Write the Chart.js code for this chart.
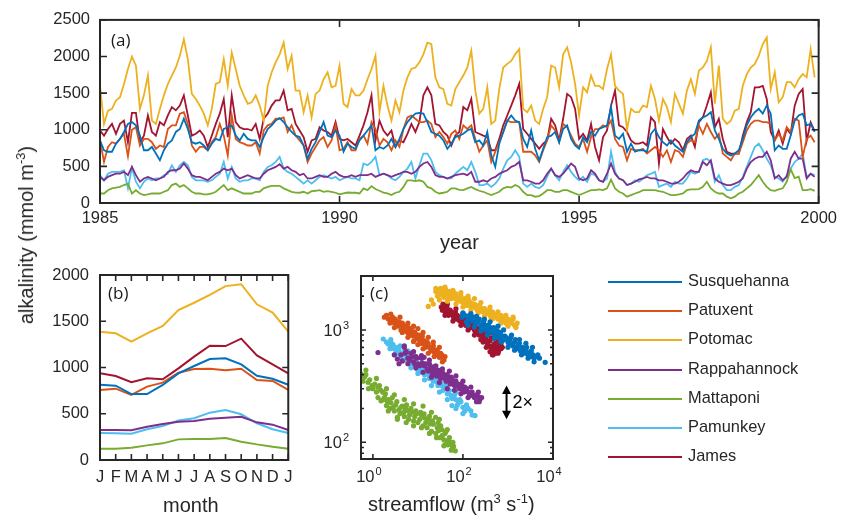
<!DOCTYPE html>
<html>
<head>
<meta charset="utf-8">
<script src="https://cdn.jsdelivr.net/npm/chart.js@4.4.1/dist/chart.umd.min.js"></script>
<style>
body { margin: 0; background: #fff; }
#wrap { position: relative; width: 843px; height: 520px; overflow: hidden; font-family: 'Liberation Sans', Arial, sans-serif; color: #262626; }
canvas { position: absolute; }
.lbl { position: absolute; font-size: 20px; line-height: 1; white-space: nowrap; }
.lbl sup { font-size: 13px; vertical-align: 0; position: relative; top: -8px; line-height: 0; }
.tag { position: absolute; font-family: 'Open Sans', sans-serif; font-size: 17px; line-height: 1; color: #1a1a1a; }
.leg-line { position: absolute; left: 608px; width: 74px; height: 2px; }
.leg-text { position: absolute; left: 688px; font-size: 16.4px; line-height: 1; white-space: nowrap; }
</style>
</head>
<body>
<div id="wrap">
  <canvas id="chartA" width="843" height="235" style="left:0;top:0"></canvas>
  <canvas id="chartB" width="300" height="255" style="left:0;top:240px"></canvas>
  <canvas id="chartC" width="280" height="255" style="left:300px;top:240px"></canvas>

  <div class="tag" style="left:111px;top:31px">(a)</div>
  <div class="tag" style="left:108px;top:284px">(b)</div>
  <div class="tag" style="left:370px;top:284px">(c)</div>

  <div class="lbl" style="left:440px;top:232px">year</div>
  <div class="lbl" style="left:163px;top:495px">month</div>
  <div class="lbl" style="left:368px;top:494px">streamflow (m<sup>3</sup> s<sup>-1</sup>)</div>
  <div class="lbl" style="left:26px;top:235px;transform:translate(-50%,-50%) rotate(-90deg)">alkalinity (mmol m<sup>-3</sup>)</div>

  <div id="legend"></div>
</div>
<script>
const ink = '#262626';
const rivers = ['Susquehanna', 'Patuxent', 'Potomac', 'Rappahannock', 'Mattaponi', 'Pamunkey', 'James'];
const colors = ['#0072BD', '#D95319', '#EDB120', '#7E2F8E', '#77AC30', '#4DBEEE', '#A2142F'];

// (a) monthly series, Jan 1985 .. Dec 1999
const startYear = 1985;
const yearTicks = [1985, 1990, 1995, 2000];
const alkTicksA = [0, 500, 1000, 1500, 2000, 2500];

const susMonthly = [
  855,720,700,700,810,875,970,1080,1105,1060, 920,720,720,765,675,583,720,810,855,970,
  1010,1150,1010,830,810,830,785,720,810,875, 855,1010,1035,1060,920,855,945,875,855,855,
  765,900,1010,1060,1125,1160,1105,1035,970,920, 900,785,605,740,830,970,1105,920,900,990,
  920,700,810,765,740,855,920,990,1060,720, 765,740,785,875,765,875,1010,1105,1170,1220,
  1230,1220,1105,970,945,920,855,740,810,900, 920,945,990,1010,830,855,785,970,650,493,
  810,970,1125,1195,1125,1105,875,765,990,740, 583,740,900,920,970,830,1010,1060,875,785,
  740,900,830,970,920,1010,1035,1060,1310,920, 875,945,700,810,700,720,720,700,945,1010,
  900,830,785,855,785,740,700,830,900,945, 1125,1170,1195,1240,990,875,740,675,650,675,
  720,875,1060,1170,1240,1285,1220,1330,1220,720, 785,740,740,920,1125,1195,1220,1060,1080,970
];
const patMonthly = [
  855,560,765,830,810,875,945,640,1000,1035, 785,875,875,830,740,785,765,1010,1060,1060,
  1220,1240,1080,785,700,765,765,720,830,900, 1080,920,650,1195,875,830,810,785,785,830,
  675,990,1060,1080,1150,1150,1170,970,1060,920, 855,785,560,675,765,855,900,765,855,1060,
  720,740,830,720,720,875,920,810,1105,1010, 785,875,830,720,855,765,1010,1170,1195,1150,
  1105,1105,1125,1080,900,970,900,810,945,990, 875,1060,1010,1060,875,700,785,855,560,700,
  830,970,1125,1105,1105,1105,700,700,700,650, 560,720,855,1060,990,830,1080,1035,920,810,
  765,875,700,900,1010,1010,1060,1035,1125,875, 785,765,583,740,720,720,740,675,720,765,
  720,630,720,560,720,700,630,810,855,830, 1060,945,1080,970,875,945,675,630,583,675,
  675,830,990,1080,1125,1125,1105,1105,1080,855, 945,855,1035,970,1150,1125,630,875,920,830
];
const potMonthly = [
  1600,1080,1260,1285,1400,1445,1625,1830,2000,1875, 1285,1470,1740,1125,1080,1285,1470,1625,1740,1850,
  2010,2235,1965,1490,1420,1330,1220,1060,1285,1625, 1650,1965,1600,2055,1830,1600,1470,1355,1375,1470,
  1330,1125,1600,1785,1920,2030,2190,1830,2010,1535, 1535,1240,1470,1170,1490,1535,1690,1785,1580,1600,
  1875,1355,1310,1555,1470,1470,1535,1690,1830,2010, 1240,1600,1330,1125,1400,1240,1535,1715,1830,1850,
  1920,2030,2190,2170,1715,1580,1555,1355,1330,1555, 1650,1740,1850,2080,1535,1220,1285,1580,1080,1125,
  1555,1850,1900,1940,2030,2100,1285,1240,1330,1125, 1080,1285,1445,1875,1850,1580,2030,2125,1920,1625,
  1195,1580,1510,1740,1600,1600,1555,1830,2030,1600, 1535,1490,1000,1285,1240,1240,1330,1310,1600,1420,
  1125,1420,1310,1105,1490,1355,1220,1535,1690,1490, 1805,1850,1940,2125,1355,1875,1150,1080,1125,1260,
  1285,1600,1760,1850,1900,2010,2170,2260,1555,1785, 1375,1445,1650,1650,1580,1690,1760,1715,2100,1715
];
const rapMonthly = [
  357,310,357,380,400,400,425,380,493,380, 290,335,357,335,310,335,357,425,447,447,
  470,540,470,380,357,357,335,310,357,400, 425,470,447,470,380,335,357,380,357,335,
  335,400,447,470,493,530,470,493,447,425, 380,400,335,335,357,380,357,357,400,425,
  380,357,357,380,357,380,380,380,400,357, 380,400,380,357,380,400,425,425,400,425,
  493,540,560,493,380,357,357,335,357,380, 390,400,380,425,290,290,310,290,335,357,
  400,425,447,493,515,560,310,310,290,265, 265,310,400,470,380,357,400,470,540,493,
  335,310,335,447,400,310,290,400,540,400, 335,310,245,265,290,322,335,357,335,335,
  310,310,290,265,265,290,335,400,447,425, 425,560,515,583,335,290,265,245,245,265,
  290,335,470,560,605,630,630,700,583,335, 380,310,357,605,700,605,605,335,400,357
];
const matMonthly = [
  130,130,175,200,210,220,245,265,130,175, 130,108,117,130,130,130,153,175,245,265,
  220,245,200,153,130,130,117,117,130,153, 200,245,175,200,175,153,130,130,130,153,
  153,200,220,235,235,235,200,175,153,143, 140,153,130,162,167,175,153,162,153,140,
  117,130,143,140,140,130,200,175,230,190, 167,143,130,108,140,153,220,310,310,298,
  310,290,220,200,153,130,140,153,200,200, 180,175,200,220,190,167,153,130,108,130,
  153,200,220,212,245,220,153,108,108,86, 95,130,175,175,153,153,175,175,153,130,
  108,130,153,175,175,185,175,200,320,200, 153,130,86,108,130,147,175,175,175,175,
  162,153,130,108,108,117,130,175,185,185, 190,220,290,200,153,130,130,86,63,86,
  130,153,200,245,310,380,290,220,175,167, 185,200,290,460,340,360,175,175,190,165
];
const pamMonthly = [
  380,310,400,425,425,425,447,200,480,290, 200,290,335,310,335,335,380,400,515,425,
  515,560,515,357,310,310,310,290,310,357, 400,560,335,493,335,290,310,310,335,335,
  310,425,493,515,560,630,470,425,400,357, 310,265,310,265,310,357,380,357,335,357,
  310,335,357,335,335,310,540,515,560,630, 380,400,380,335,310,357,425,470,560,335,
  515,675,675,583,425,380,357,335,335,400, 447,493,447,560,425,245,245,265,220,265,
  335,470,583,630,720,630,265,220,265,220, 200,245,357,470,380,310,425,515,425,357,
  310,357,290,400,380,310,290,335,700,425, 335,310,245,265,310,290,335,380,400,425,
  220,245,265,220,290,265,265,335,425,400, 425,583,605,560,290,380,245,176,176,220,
  245,357,493,630,765,810,720,605,515,357, 335,290,380,470,560,605,675,357,400,380
];
const jamMonthly = [
  990,920,1010,1080,945,1080,1125,830,1230,1230, 830,920,1195,970,920,1105,1060,1195,1310,1265,
  1330,1470,1195,920,945,990,920,765,920,1080, 1220,1420,900,1470,1105,1035,1010,1010,990,1080,
  875,1150,1220,1330,1400,1400,1535,1265,1285,1080, 990,900,700,855,875,1035,990,970,920,1105,
  875,855,875,830,785,920,1060,1240,1470,855, 1125,990,920,990,765,855,830,945,1080,970,
  1105,1470,1580,1470,1080,1060,970,920,785,920, 970,1310,1265,1420,970,945,920,900,720,720,
  875,1060,1195,1330,1470,1625,1010,945,875,810, 740,810,855,1150,1060,855,1150,1490,1445,1285,
  875,945,855,1080,765,583,900,990,1330,1535, 1060,1035,970,855,810,810,830,785,1170,1105,
  540,1010,900,810,875,830,720,875,920,765, 1105,1170,1330,1510,1035,1150,875,700,675,675,
  675,920,1105,1240,1580,1580,1600,1420,970,855, 990,810,1010,945,1330,1490,1555,850,1100,980
];

// (b) monthly climatology, J..D plus the next J
const monthLabels = ['J', 'F', 'M', 'A', 'M', 'J', 'J', 'A', 'S', 'O', 'N', 'D', 'J'];
const alkTicksB = [0, 500, 1000, 1500, 2000];
const susClim = [814, 804, 713, 713, 811, 937, 1016, 1092, 1099, 1034, 911, 879, 814];
const patClim = [757, 771, 703, 793, 836, 944, 983, 987, 969, 987, 865, 854, 757];
const potClim = [1387, 1370, 1280, 1370, 1450, 1620, 1700, 1784, 1880, 1900, 1683, 1593, 1387];
const rapClim = [324, 324, 321, 360, 389, 414, 422, 447, 458, 468, 407, 382, 324];
const matClim = [122, 122, 133, 158, 180, 223, 227, 227, 238, 198, 169, 144, 122];
const pamClim = [292, 288, 285, 332, 368, 426, 451, 512, 541, 494, 397, 332, 292];
const jamClim = [937, 908, 840, 883, 872, 990, 1117, 1236, 1232, 1312, 1131, 1034, 937];

// (c) [streamflow m3/s, alkalinity mmol/m3]
const flowTicks = [1, 100, 10000];
const flowExp = ['0', '2', '4'];
const alkLogTicks = [100, 1000];
const alkLogExp = ['2', '3'];
const alkLogMinor = [80, 90, 200, 300, 400, 500, 600, 700, 800, 900, 2000, 3000];
const susScatter = [[95,1300],[110,1350],[130,1250],[150,1300],[160,1200],[180,1250],[200,1150],[220,1200],[250,1100],[280,1150],[300,1050],[330,1100],[350,1000],[400,1050],[450,950],[500,1000],[550,900],[600,950],[650,850],[700,900],[800,820],[900,860],[1000,780],[1100,820],[1200,750],[1400,780],[1500,700],[1700,730],[2000,680],[2200,640],[2500,660],[2800,600],[3000,630],[3600,600],[4200,580],[6700,515],
  [120,1180],[140,1350],[170,1300],[190,1150],[230,1250],[260,1050],[290,1200],[320,1000],[370,1100],[420,980],[480,1050],[520,900],[580,980],[620,880],[680,950],[750,800],[850,880],[950,820],[1050,740],[1150,860],[1300,720],[1450,820],[1600,680],[1800,760],[1900,650],[2100,700],[2400,620],[2600,700],[3200,580],[3300,650],[3800,560],[4600,600],[5000,560],
  [100,1420],[150,1400],[200,1320],[300,1250],[400,1180],[600,1080],[800,1000],[1200,900],[1800,820],[2500,760],[3500,700],
  [130,1100],[180,1060],[250,980],[350,900],[500,840],[700,780],[1000,700],[1400,660],[2000,600],[2800,560],[3800,520]];
const patScatter = [[1.8,1300],[2.2,1250],[2.5,1200],[2.8,1280],[3,1150],[3.3,1200],[3.6,1100],[4,1150],[4.3,1050],[4.7,1100],[5,1000],[5.5,1050],[6,950],[6.5,1000],[7,920],[7.5,980],[8,880],[9,920],[10,850],[11,800],[12,850],[13,760],[14,800],[15,720],[17,750],[19,680],[21,700],[23,640],[25,660],[28,600],[32,620],[36,560],[40,580],
  [2,1350],[2.4,1150],[2.7,1300],[3.1,1250],[3.4,1080],[3.8,1180],[4.2,1000],[4.5,1150],[5.2,1080],[5.8,960],[6.2,1050],[6.8,900],[7.2,1000],[8.5,950],[9.5,830],[10.5,900],[11.5,760],[12.5,880],[13.5,800],[14.5,700],[16,780],[18,700],[20,650],[22,720],[24,600],[27,650],[30,570],[34,600],[38,540],
  [2.5,1380],[4,1300],[6,1150],[8,1080],[10,1030],[13,950],[17,860],[22,780],[30,700],
  [3,1050],[4.5,950],[6,860],[8,790],[10,740],[13,680],[17,620],[23,580],[35,520]];
const potScatter = [[17,1620],[22,1700],[28,2250],[30,2050],[33,2200],[35,2150],[38,1950],[40,2300],[45,2100],[48,2000],[52,2150],[55,1900],[60,2050],[65,1950],[70,2100],[75,1850],[80,1900],[90,2000],[95,1800],[100,1750],[110,1900],[120,1700],[130,1800],[140,1650],[150,1750],[170,1600],[180,1700],[200,1550],[220,1650],[250,1500],[280,1450],[300,1550],[350,1400],[400,1350],[450,1450],[500,1300],[600,1250],[700,1350],[800,1200],[900,1150],[1000,1250],[1200,1150],[1400,1100],[1600,1150],
  [20,1850],[25,2200],[27,2000],[32,2350],[36,2050],[42,2250],[46,1950],[50,2200],[58,2000],[62,2150],[68,1900],[72,2000],[85,1950],[88,1800],[105,1850],[115,1750],[125,1650],[135,1850],[160,1700],[190,1650],[210,1500],[240,1600],[260,1550],[320,1450],[380,1500],[420,1300],[480,1400],[550,1350],[650,1250],[750,1300],[850,1250],[1100,1200],[1300,1250],[1500,1100],
  [25,2350],[40,2400],[60,2250],[90,2150],[130,2000],[180,1900],[250,1750],[400,1600],[600,1450],[900,1350],[1300,1300],
  [30,1850],[45,1800],[70,1700],[100,1600],[150,1500],[220,1420],[300,1330],[450,1250],[700,1150],[1000,1080],[1500,1050]];
const rapScatter = [[1.3,630],[3.5,550],[4.2,600],[5,700],[5.5,640],[6,560],[7,620],[8,520],[9,580],[10,500],[12,560],[13.7,570],[14,480],[16,450],[18,500],[20,430],[22,470],[25,410],[28,440],[30,390],[35,420],[40,370],[45,400],[50,350],[55,380],[60,330],[70,350],[80,310],[90,330],[100,290],[110,310],[130,280],[150,270],[170,260],[200,265],[240,243],[260,250],
  [3,600],[3.8,500],[4.5,530],[5.2,620],[6.5,540],[7.5,580],[8.5,500],[9.5,560],[11,480],[12.5,510],[15,500],[17,430],[19,470],[21,400],[24,440],[26,390],[29,420],[32,370],[38,400],[42,350],[48,380],[52,330],[58,360],[65,320],[75,330],[85,300],[95,320],[105,280],[120,300],[140,260],[160,280],[180,250],[220,255],[230,230],
  [5,720],[8,640],[12,590],[18,540],[25,480],[35,450],[50,430],[70,390],[100,350],[150,310],[220,280],
  [6,500],[9,460],[13,420],[20,380],[30,340],[45,300],[65,290],[90,270],[130,250],[200,230]];
const matScatter = [[0.55,405],[0.65,380],[0.78,342],[0.95,320],[1.1,330],[1.29,309],[1.5,290],[1.66,279],[1.52,234],[1.8,250],[2,212],[2.2,240],[2.5,225],[2.8,205],[3.2,215],[3.5,167],[3.8,195],[4.2,205],[4.8,185],[5.3,200],[5.9,191],[6.5,175],[7.5,185],[8.5,170],[9.5,180],[11,160],[12,175],[13.7,179],[15,150],[17,160],[19,146],[21,155],[24.7,167],[27,135],[29,127],[32,140],[35,115],[37.6,93],[40,120],[44.5,103],[50,110],[55,95],[60,100],[67.8,84],
  [0.6,350],[0.7,400],[0.85,360],[1.0,300],[1.2,280],[1.4,320],[1.7,240],[1.9,270],[2.1,230],[2.4,200],[2.7,250],[3,190],[3.4,230],[4,180],[4.5,210],[5,170],[5.6,215],[6.2,160],[7,200],[8,155],[9,190],[10,150],[11.5,185],[13,140],[14,165],[16,135],[18,170],[20,125],[22,145],[25,120],[28,150],[31,110],[34,130],[38,105],[42,125],[46,95],[52,100],[58,88],[62,92],
  [0.7,440],[1.2,370],[2,300],[3,265],[5,240],[8,220],[13,210],[20,185],[30,160],[45,130],
  [0.8,300],[1.3,250],[2.2,190],[3.5,160],[5.5,150],[8,140],[12,135],[18,120],[26,110],[40,95],[55,85]];
const pamScatter = [[1.7,830],[2.2,750],[2.5,700],[2.8,740],[3,680],[3.3,650],[3.6,690],[4,620],[4.5,600],[5,640],[5.5,560],[6,590],[6.5,530],[7,560],[8,500],[9,520],[10,470],[11,490],[12,440],[13,460],[15,420],[17,400],[19,410],[21,370],[24,380],[27,340],[30,350],[34,320],[38,300],[42,310],[48,280],[55,260],[57,212],[62,250],[70,240],[80,225],[90,230],[100,205],[120,215],[150,190],[186,173],
  [2,780],[2.4,680],[2.6,760],[3.2,700],[3.5,620],[3.8,660],[4.2,580],[4.8,620],[5.2,540],[5.8,600],[6.2,510],[6.8,540],[7.5,480],[8.5,540],[9.5,450],[10.5,500],[11.5,420],[12.5,470],[14,400],[16,430],[18,370],[20,400],[22,350],[25,370],[28,320],[32,340],[36,290],[40,320],[45,270],[50,290],[58,245],[65,265],[75,215],[85,240],[110,190],[130,200],[160,175],
  [2.5,820],[4,720],[6,650],[9,580],[14,500],[20,440],[30,390],[45,330],[70,280],
  [3,600],[4.5,530],[7,460],[10,410],[14,360],[20,320],[30,280],[45,240],[70,200],[100,180]];
const jamScatter = [[33,1600],[35,1500],[38,1650],[40,1450],[42,1550],[45,1500],[50,1400],[55,1450],[60,1350],[65,1400],[70,1300],[75,1350],[80,1250],[90,1300],[100,1200],[110,1250],[120,1150],[130,1100],[140,1200],[150,1050],[170,1100],[180,1000],[200,1050],[220,950],[250,1000],[270,900],[300,950],[320,850],[350,900],[400,800],[420,700],[450,850],[470,600],[500,750],[550,800],[600,700],[650,750],[700,680],[500,650],[380,720],[280,780],
  [36,1700],[39,1550],[44,1600],[48,1350],[52,1500],[58,1400],[62,1300],[68,1450],[72,1250],[78,1300],[85,1200],[95,1150],[105,1300],[115,1100],[125,1200],[145,1050],[160,1150],[175,1050],[190,950],[210,1000],[230,900],[260,950],[290,850],[310,1000],[340,800],[360,950],[420,850],[440,650],[480,700],[520,620],[560,700],[620,650],[700,750],[750,700],[330,700],[450,720],
  [45,1700],[70,1550],[100,1400],[150,1300],[200,1180],[300,1080],[400,950],[600,850],
  [40,1350],[60,1200],[90,1100],[130,1000],[180,900],[250,820],[350,760],[450,600],[600,620],[400,640]];

// "2x" arrow in (c)
const arrowFlow = 930, arrowLow = 160, arrowHigh = 320;

Chart.defaults.font.family = "'Liberation Sans', Arial, sans-serif";
Chart.defaults.color = ink;
Chart.defaults.animation = false;

const tickFont = { size: 16.5 };

function makeFrame(cfg) {
  return {
    id: 'frame',
    afterDatasetsDraw(chart) {
      const { ctx, chartArea: a } = chart;
      const xs = chart.scales.x, ys = chart.scales.y;
      ctx.save();
      ctx.strokeStyle = ink;
      ctx.lineWidth = 1.6;
      ctx.beginPath();
      cfg.xTicks.forEach(v => {
        const p = xs.getPixelForValue(v);
        ctx.moveTo(p, a.bottom); ctx.lineTo(p, a.bottom - cfg.len);
        ctx.moveTo(p, a.top); ctx.lineTo(p, a.top + cfg.len);
      });
      cfg.yTicks.forEach(v => {
        const p = ys.getPixelForValue(v);
        ctx.moveTo(a.left, p); ctx.lineTo(a.left + cfg.len, p);
        ctx.moveTo(a.right, p); ctx.lineTo(a.right - cfg.len, p);
      });
      (cfg.yMinor || []).forEach(v => {
        const p = ys.getPixelForValue(v);
        ctx.moveTo(a.left, p); ctx.lineTo(a.left + cfg.minorLen, p);
        ctx.moveTo(a.right, p); ctx.lineTo(a.right - cfg.minorLen, p);
      });
      ctx.stroke();
      ctx.lineWidth = 2;
      ctx.strokeRect(a.left, a.top, a.right - a.left, a.bottom - a.top);
      ctx.restore();
    }
  };
}

function lineSets(list) {
  return list.map((vals, k) => ({
    label: rivers[k],
    data: vals,
    borderColor: colors[k],
    borderWidth: 1.8,
    pointRadius: 0,
    tension: 0,
    fill: false
  }));
}

function fixedTicks(values) {
  return scale => { scale.ticks = values.map(v => ({ value: v })); };
}

// ---- panel (a)
const seriesA = [susMonthly, patMonthly, potMonthly, rapMonthly, matMonthly, pamMonthly, jamMonthly]
  .map(vals => vals.map((v, i) => ({ x: startYear + i / 12, y: v })));

new Chart(document.getElementById('chartA'), {
  type: 'line',
  data: { datasets: lineSets(seriesA) },
  options: {
    responsive: false,
    layout: { padding: { top: 19, right: 24, left: 0, bottom: 0 }, autoPadding: false },
    plugins: { legend: { display: false }, tooltip: { enabled: false } },
    scales: {
      x: {
        type: 'linear', min: 1985, max: 2000,
        afterBuildTicks: fixedTicks(yearTicks),
        afterFit: s => { s.height = 32; },
        grid: { display: false, drawTicks: false }, border: { display: false },
        ticks: { font: tickFont, padding: 6, maxRotation: 0, autoSkip: false, callback: v => String(v) }
      },
      y: {
        min: 0, max: 2500,
        afterBuildTicks: fixedTicks(alkTicksA),
        afterFit: s => { s.width = 100; },
        grid: { display: false, drawTicks: false }, border: { display: false },
        ticks: { font: tickFont, padding: 10, callback: v => String(v) }
      }
    }
  },
  plugins: [makeFrame({ xTicks: yearTicks, yTicks: alkTicksA, len: 7 })]
});

// ---- panel (b)
const monthPos = monthLabels.map((m, i) => i + 1);
const seriesB = [susClim, patClim, potClim, rapClim, matClim, pamClim, jamClim]
  .map(vals => vals.map((v, i) => ({ x: monthPos[i], y: v })));
const setsB = lineSets(seriesB);
setsB.forEach(d => { d.borderWidth = 2; });

new Chart(document.getElementById('chartB'), {
  type: 'line',
  data: { datasets: setsB },
  options: {
    responsive: false,
    layout: { padding: { top: 35, right: 8, left: 0, bottom: 0 }, autoPadding: false },
    plugins: { legend: { display: false }, tooltip: { enabled: false } },
    scales: {
      x: {
        type: 'linear', min: 1, max: 13,
        afterBuildTicks: fixedTicks(monthPos),
        afterFit: s => { s.height = 35; },
        grid: { display: false, drawTicks: false }, border: { display: false },
        ticks: { font: tickFont, padding: 7.6, maxRotation: 0, autoSkip: false, callback: v => monthLabels[v - 1] }
      },
      y: {
        min: 0, max: 2000,
        afterBuildTicks: fixedTicks(alkTicksB),
        afterFit: s => { s.width = 100; },
        grid: { display: false, drawTicks: false }, border: { display: false },
        ticks: { font: tickFont, padding: 11, callback: v => String(v) }
      }
    }
  },
  plugins: [makeFrame({ xTicks: monthPos, yTicks: alkTicksB, len: 6 })]
});

// ---- panel (c)
const scatterSets = [susScatter, patScatter, potScatter, rapScatter, matScatter, pamScatter, jamScatter]
  .map((pts, k) => ({
    label: rivers[k],
    data: pts.map(p => ({ x: p[0], y: p[1] })),
    backgroundColor: colors[k],
    borderWidth: 0,
    pointRadius: 2.6
  }));

function drawPow(ctx, exp, x, y, align) {
  const big = "16.5px 'Liberation Sans', Arial, sans-serif";
  const small = "11px 'Liberation Sans', Arial, sans-serif";
  ctx.font = big;
  const w1 = ctx.measureText('10').width;
  ctx.font = small;
  const w2 = ctx.measureText(exp).width;
  const total = w1 + 1 + w2;
  const x0 = align === 'right' ? x - total : x - total / 2;
  ctx.textAlign = 'left';
  ctx.textBaseline = 'alphabetic';
  ctx.fillStyle = ink;
  ctx.font = big;
  ctx.fillText('10', x0, y);
  ctx.font = small;
  ctx.fillText(exp, x0 + w1 + 1, y - 7);
}

const logLabels = {
  id: 'logLabels',
  afterDraw(chart) {
    const { ctx, chartArea: a } = chart;
    const xs = chart.scales.x, ys = chart.scales.y;
    ctx.save();
    flowTicks.forEach((v, i) => drawPow(ctx, flowExp[i], xs.getPixelForValue(v) - 4, a.bottom + 22.7, 'center'));
    alkLogTicks.forEach((v, i) => drawPow(ctx, alkLogExp[i], a.left - 12, ys.getPixelForValue(v) + 6, 'right'));

    // 2x arrow
    const ax = xs.getPixelForValue(arrowFlow);
    const yTop = ys.getPixelForValue(arrowHigh);
    const yBot = ys.getPixelForValue(arrowLow);
    ctx.strokeStyle = '#000';
    ctx.fillStyle = '#000';
    ctx.lineWidth = 2;
    ctx.beginPath();
    ctx.moveTo(ax, yTop + 6); ctx.lineTo(ax, yBot - 6);
    ctx.stroke();
    ctx.beginPath();
    ctx.moveTo(ax, yTop); ctx.lineTo(ax - 4.5, yTop + 8.5); ctx.lineTo(ax + 4.5, yTop + 8.5); ctx.closePath();
    ctx.moveTo(ax, yBot); ctx.lineTo(ax - 4.5, yBot - 8.5); ctx.lineTo(ax + 4.5, yBot - 8.5); ctx.closePath();
    ctx.fill();
    ctx.font = "18px 'Liberation Sans', Arial, sans-serif";
    ctx.textAlign = 'left';
    ctx.textBaseline = 'middle';
    ctx.fillText('2\u00d7', ax + 6, (yTop + yBot) / 2 + 1);
    ctx.restore();
  }
};

new Chart(document.getElementById('chartC'), {
  type: 'scatter',
  data: { datasets: scatterSets },
  options: {
    responsive: false,
    layout: { padding: { top: 36, right: 27, left: 0, bottom: 0 }, autoPadding: false },
    plugins: { legend: { display: false }, tooltip: { enabled: false } },
    scales: {
      x: {
        type: 'logarithmic', min: 0.545, max: 10000,
        afterBuildTicks: fixedTicks(flowTicks),
        afterFit: s => { s.height = 36; },
        grid: { display: false, drawTicks: false }, border: { display: false },
        ticks: { display: false }
      },
      y: {
        type: 'logarithmic', min: 71, max: 3020,
        afterBuildTicks: fixedTicks(alkLogTicks),
        afterFit: s => { s.width = 61; },
        grid: { display: false, drawTicks: false }, border: { display: false },
        ticks: { display: false }
      }
    }
  },
  plugins: [makeFrame({ xTicks: [1, 100], yTicks: alkLogTicks, yMinor: alkLogMinor, len: 5, minorLen: 3 }), logLabels]
});

// ---- legend
const legend = document.getElementById('legend');
rivers.forEach((name, k) => {
  const y = 281.7 + k * 29.27;
  const line = document.createElement('div');
  line.className = 'leg-line';
  line.style.top = (y - 1) + 'px';
  line.style.background = colors[k];
  legend.appendChild(line);
  const txt = document.createElement('div');
  txt.className = 'leg-text';
  txt.style.top = (y - 10) + 'px';
  txt.textContent = name;
  legend.appendChild(txt);
});
</script>
</body>
</html>
